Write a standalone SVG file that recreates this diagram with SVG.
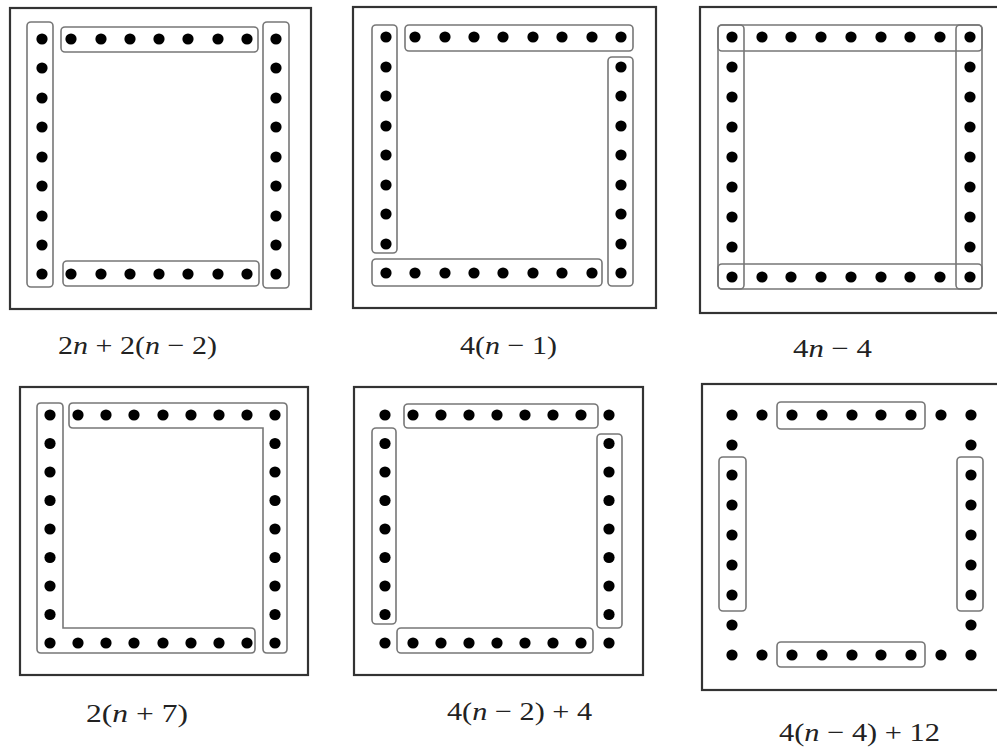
<svg xmlns="http://www.w3.org/2000/svg" xmlns:xlink="http://www.w3.org/1999/xlink" width="997" height="749" viewBox="0 0 997 749">
<style>
.frame{fill:none;stroke:#333;stroke-width:2.2}
.grp{fill:none;stroke:#777;stroke-width:1.6}
.lbl{font-family:"Liberation Serif","Times New Roman",serif;font-size:26px;fill:#222}
.it{font-style:italic}
</style>
<defs><circle id="d" r="5.6" fill="#000"/></defs>
<rect width="997" height="749" fill="#fff"/>

<g id="panel1">
<rect class="frame" x="10" y="8" width="301" height="301"/>
<rect class="grp" x="27" y="22" width="26" height="265" rx="4"/>
<rect class="grp" x="61" y="27" width="197" height="25" rx="4"/>
<rect class="grp" x="63" y="261" width="196" height="25" rx="4"/>
<rect class="grp" x="263" y="22" width="26" height="266" rx="4"/>
<g>
<use href="#d" x="42" y="39"/><use href="#d" x="71" y="39"/><use href="#d" x="101" y="39"/><use href="#d" x="130" y="39"/><use href="#d" x="159" y="39"/><use href="#d" x="188" y="39"/><use href="#d" x="218" y="39"/><use href="#d" x="247" y="39"/><use href="#d" x="276" y="39"/>
<use href="#d" x="42" y="274"/><use href="#d" x="71" y="274"/><use href="#d" x="101" y="274"/><use href="#d" x="130" y="274"/><use href="#d" x="159" y="274"/><use href="#d" x="188" y="274"/><use href="#d" x="218" y="274"/><use href="#d" x="247" y="274"/><use href="#d" x="276" y="274"/>
<use href="#d" x="42" y="68"/><use href="#d" x="42" y="98"/><use href="#d" x="42" y="127"/><use href="#d" x="42" y="157"/><use href="#d" x="42" y="186"/><use href="#d" x="42" y="216"/><use href="#d" x="42" y="245"/>
<use href="#d" x="276" y="68"/><use href="#d" x="276" y="98"/><use href="#d" x="276" y="127"/><use href="#d" x="276" y="157"/><use href="#d" x="276" y="186"/><use href="#d" x="276" y="216"/><use href="#d" x="276" y="245"/>
</g>
<text class="lbl" x="58" y="354" textLength="159" lengthAdjust="spacingAndGlyphs">2<tspan class="it">n</tspan> + 2(<tspan class="it">n</tspan> − 2)</text>
</g>

<g id="panel2">
<rect class="frame" x="353" y="7" width="303" height="301"/>
<rect class="grp" x="372" y="25" width="25" height="228" rx="4"/>
<rect class="grp" x="405" y="25" width="228" height="26" rx="4"/>
<rect class="grp" x="608" y="57" width="25" height="229" rx="4"/>
<rect class="grp" x="372" y="259" width="230" height="27" rx="4"/>
<g>
<use href="#d" x="386" y="37"/><use href="#d" x="415" y="37"/><use href="#d" x="445" y="37"/><use href="#d" x="474" y="37"/><use href="#d" x="503" y="37"/><use href="#d" x="533" y="37"/><use href="#d" x="562" y="37"/><use href="#d" x="592" y="37"/><use href="#d" x="621" y="37"/>
<use href="#d" x="386" y="273"/><use href="#d" x="415" y="273"/><use href="#d" x="445" y="273"/><use href="#d" x="474" y="273"/><use href="#d" x="503" y="273"/><use href="#d" x="533" y="273"/><use href="#d" x="562" y="273"/><use href="#d" x="592" y="273"/><use href="#d" x="621" y="273"/>
<use href="#d" x="386" y="67"/><use href="#d" x="386" y="96"/><use href="#d" x="386" y="126"/><use href="#d" x="386" y="155"/><use href="#d" x="386" y="185"/><use href="#d" x="386" y="214"/><use href="#d" x="386" y="244"/>
<use href="#d" x="621" y="67"/><use href="#d" x="621" y="96"/><use href="#d" x="621" y="126"/><use href="#d" x="621" y="155"/><use href="#d" x="621" y="185"/><use href="#d" x="621" y="214"/><use href="#d" x="621" y="244"/>
</g>
<text class="lbl" x="460" y="354" textLength="97" lengthAdjust="spacingAndGlyphs">4(<tspan class="it">n</tspan> − 1)</text>
</g>

<g id="panel3">
<rect class="frame" x="700" y="7" width="310" height="306"/>
<rect class="grp" x="718" y="25" width="264" height="26" rx="4"/>
<rect class="grp" x="718" y="264" width="264" height="25" rx="4"/>
<rect class="grp" x="718" y="25" width="26" height="264" rx="4"/>
<rect class="grp" x="956" y="25" width="26" height="264" rx="4"/>
<g>
<use href="#d" x="732" y="37"/><use href="#d" x="762" y="37"/><use href="#d" x="791" y="37"/><use href="#d" x="821" y="37"/><use href="#d" x="851" y="37"/><use href="#d" x="881" y="37"/><use href="#d" x="910" y="37"/><use href="#d" x="940" y="37"/><use href="#d" x="970" y="37"/>
<use href="#d" x="732" y="277"/><use href="#d" x="762" y="277"/><use href="#d" x="791" y="277"/><use href="#d" x="821" y="277"/><use href="#d" x="851" y="277"/><use href="#d" x="881" y="277"/><use href="#d" x="910" y="277"/><use href="#d" x="940" y="277"/><use href="#d" x="970" y="277"/>
<use href="#d" x="732" y="67"/><use href="#d" x="732" y="97"/><use href="#d" x="732" y="127"/><use href="#d" x="732" y="157"/><use href="#d" x="732" y="187"/><use href="#d" x="732" y="217"/><use href="#d" x="732" y="247"/>
<use href="#d" x="970" y="67"/><use href="#d" x="970" y="97"/><use href="#d" x="970" y="127"/><use href="#d" x="970" y="157"/><use href="#d" x="970" y="187"/><use href="#d" x="970" y="217"/><use href="#d" x="970" y="247"/>
</g>
<text class="lbl" x="793" y="357" textLength="79" lengthAdjust="spacingAndGlyphs">4<tspan class="it">n</tspan> − 4</text>
</g>

<g id="panel4">
<rect class="frame" x="20" y="387" width="288" height="288"/>
<path class="grp" d="M37,407 q0,-4 4,-4 h18 q4,0 4,4 V628 H251 q4,0 4,4 v17 q0,4 -4,4 H41 q-4,0 -4,-4 Z"/>
<path class="grp" d="M73,403 H283 q4,0 4,4 V649 q0,4 -4,4 h-16 q-4,0 -4,-4 V428 H73 q-4,0 -4,-4 v-17 q0,-4 4,-4 Z"/>
<g>
<use href="#d" x="50" y="415"/><use href="#d" x="78" y="415"/><use href="#d" x="106" y="415"/><use href="#d" x="134" y="415"/><use href="#d" x="163" y="415"/><use href="#d" x="191" y="415"/><use href="#d" x="219" y="415"/><use href="#d" x="247" y="415"/><use href="#d" x="275" y="415"/>
<use href="#d" x="50" y="643"/><use href="#d" x="78" y="643"/><use href="#d" x="106" y="643"/><use href="#d" x="134" y="643"/><use href="#d" x="163" y="643"/><use href="#d" x="191" y="643"/><use href="#d" x="219" y="643"/><use href="#d" x="247" y="643"/><use href="#d" x="275" y="643"/>
<use href="#d" x="50" y="443.5"/><use href="#d" x="50" y="472"/><use href="#d" x="50" y="500.5"/><use href="#d" x="50" y="529"/><use href="#d" x="50" y="557.5"/><use href="#d" x="50" y="586"/><use href="#d" x="50" y="614.5"/>
<use href="#d" x="275" y="443.5"/><use href="#d" x="275" y="472"/><use href="#d" x="275" y="500.5"/><use href="#d" x="275" y="529"/><use href="#d" x="275" y="557.5"/><use href="#d" x="275" y="586"/><use href="#d" x="275" y="614.5"/>
</g>
<text class="lbl" x="86" y="722" textLength="102" lengthAdjust="spacingAndGlyphs">2(<tspan class="it">n</tspan> + 7)</text>
</g>

<g id="panel5">
<rect class="frame" x="354" y="387" width="289" height="288"/>
<rect class="grp" x="404" y="404" width="194" height="24" rx="4"/>
<rect class="grp" x="372" y="428" width="24" height="196" rx="4"/>
<rect class="grp" x="597" y="434" width="25" height="194" rx="4"/>
<rect class="grp" x="397" y="628" width="196" height="25" rx="4"/>
<g>
<use href="#d" x="385" y="415"/><use href="#d" x="413" y="415"/><use href="#d" x="441" y="415"/><use href="#d" x="469" y="415"/><use href="#d" x="497" y="415"/><use href="#d" x="525" y="415"/><use href="#d" x="553" y="415"/><use href="#d" x="581" y="415"/><use href="#d" x="609" y="415"/>
<use href="#d" x="385" y="643"/><use href="#d" x="413" y="643"/><use href="#d" x="441" y="643"/><use href="#d" x="469" y="643"/><use href="#d" x="497" y="643"/><use href="#d" x="525" y="643"/><use href="#d" x="553" y="643"/><use href="#d" x="581" y="643"/><use href="#d" x="609" y="643"/>
<use href="#d" x="385" y="443.5"/><use href="#d" x="385" y="472"/><use href="#d" x="385" y="500.5"/><use href="#d" x="385" y="529"/><use href="#d" x="385" y="557.5"/><use href="#d" x="385" y="586"/><use href="#d" x="385" y="614.5"/>
<use href="#d" x="609" y="443.5"/><use href="#d" x="609" y="472"/><use href="#d" x="609" y="500.5"/><use href="#d" x="609" y="529"/><use href="#d" x="609" y="557.5"/><use href="#d" x="609" y="586"/><use href="#d" x="609" y="614.5"/>
</g>
<text class="lbl" x="447" y="720" textLength="145" lengthAdjust="spacingAndGlyphs">4(<tspan class="it">n</tspan> − 2) + 4</text>
</g>

<g id="panel6">
<rect class="frame" x="702" y="384" width="310" height="306"/>
<rect class="grp" x="777" y="402" width="148" height="27" rx="4"/>
<rect class="grp" x="777" y="642" width="148" height="25" rx="4"/>
<rect class="grp" x="719" y="457" width="27" height="154" rx="4"/>
<rect class="grp" x="957" y="457" width="26" height="154" rx="4"/>
<g>
<use href="#d" x="732" y="415"/><use href="#d" x="762" y="415"/><use href="#d" x="792" y="415"/><use href="#d" x="822" y="415"/><use href="#d" x="852" y="415"/><use href="#d" x="881" y="415"/><use href="#d" x="911" y="415"/><use href="#d" x="941" y="415"/><use href="#d" x="971" y="415"/>
<use href="#d" x="732" y="655"/><use href="#d" x="762" y="655"/><use href="#d" x="792" y="655"/><use href="#d" x="822" y="655"/><use href="#d" x="852" y="655"/><use href="#d" x="881" y="655"/><use href="#d" x="911" y="655"/><use href="#d" x="941" y="655"/><use href="#d" x="971" y="655"/>
<use href="#d" x="732" y="445"/><use href="#d" x="732" y="475"/><use href="#d" x="732" y="505"/><use href="#d" x="732" y="535"/><use href="#d" x="732" y="565"/><use href="#d" x="732" y="595"/><use href="#d" x="732" y="625"/>
<use href="#d" x="971" y="445"/><use href="#d" x="971" y="475"/><use href="#d" x="971" y="505"/><use href="#d" x="971" y="535"/><use href="#d" x="971" y="565"/><use href="#d" x="971" y="595"/><use href="#d" x="971" y="625"/>
</g>
<text class="lbl" x="779" y="741" textLength="161" lengthAdjust="spacingAndGlyphs">4(<tspan class="it">n</tspan> − 4) + 12</text>
</g>

<g id="connectors"/>
</svg>
